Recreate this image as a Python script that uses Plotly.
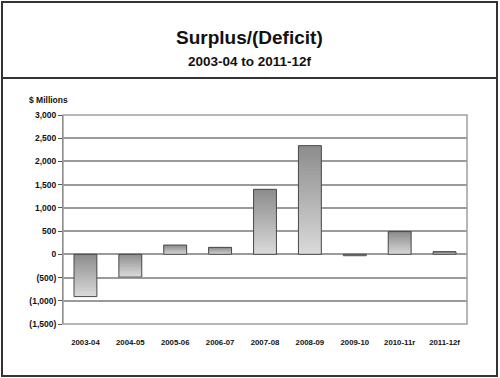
import plotly.graph_objects as go
import numpy as np

categories = ["2003-04", "2004-05", "2005-06", "2006-07", "2007-08", "2008-09", "2009-10", "2010-11r", "2011-12f"]
values = [-910, -490, 200, 150, 1400, 2340, -30, 490, 55]
tick_vals = [-1500, -1000, -500, 0, 500, 1000, 1500, 2000, 2500, 3000]
tick_text = ["(1,500)", "(1,000)", "(500)", "0", "500", "1,000", "1,500", "2,000", "2,500", "3,000"]

FONT = "Liberation Sans, Arial, sans-serif"
N = 30
dark = np.array([0x8c, 0x8c, 0x8c])
light = np.array([0xda, 0xda, 0xda])

vals = np.array(values, dtype=float)
fig = go.Figure()
for k in range(N):
    t = (k + 0.5) / N  # fraction from zero outward
    cols = []
    for v in vals:
        f = t if v >= 0 else 1 - t  # f=1 -> top of bar (dark)
        c = light + (dark - light) * f
        cols.append("rgb(%d,%d,%d)" % tuple(np.round(c).astype(int)))
    frac = min(2.0 / N, 1 - k / N)
    fig.add_trace(go.Bar(
        x=categories, y=vals * frac, base=vals * k / N,
        marker=dict(color=cols, line=dict(width=0)),
        hoverinfo="skip", showlegend=False,
    ))
fig.add_trace(go.Bar(
    x=categories, y=vals, base=[0] * len(vals),
    marker=dict(color="rgba(0,0,0,0)", line=dict(color="#4a4a4a", width=1)),
    showlegend=False,
))

l, r, t, b = 63, 33, 115, 54
pw, ph = 500 - l - r, 378 - t - b
def px(xp): return (xp - l) / pw
def py(yp): return (378 - b - yp) / ph

shapes = [
    dict(type="rect", xref="paper", yref="paper", x0=px(2), x1=px(497), y0=py(376), y1=py(2),
         line=dict(color="#333333", width=2), layer="below"),
    dict(type="line", xref="paper", yref="paper", x0=px(2), x1=px(497), y0=py(78), y1=py(78),
         line=dict(color="#333333", width=2)),
    dict(type="rect", xref="paper", yref="paper", x0=0, x1=1, y0=0, y1=1,
         line=dict(color="#a0a0a0", width=1.5)),
]

fig.update_layout(
    width=500, height=378,
    margin=dict(l=l, r=r, t=t, b=b),
    paper_bgcolor="white", plot_bgcolor="white",
    barmode="overlay", bargap=0.49,
    font=dict(family=FONT, color="#111111"),
    shapes=shapes,
    annotations=[
        dict(text="<b>Surplus/(Deficit)</b>", xref="paper", yref="paper", x=0.5 * (px(2) + px(497)), y=py(37),
             showarrow=False, font=dict(size=19, family=FONT, color="#111111"), xanchor="center", yanchor="middle"),
        dict(text="<b>2003-04 to 2011-12f</b>", xref="paper", yref="paper", x=0.5 * (px(2) + px(497)), y=py(62),
             showarrow=False, font=dict(size=13.5, family=FONT, color="#111111"), xanchor="center", yanchor="middle"),
        dict(text="<b>$ Millions</b>", xref="paper", yref="paper", x=px(27), y=py(100),
             showarrow=False, font=dict(size=8.5, family=FONT, color="#111111"), xanchor="left", yanchor="middle"),
    ],
    xaxis=dict(type="category", showgrid=False, showline=False, ticks="", tickfont=dict(size=7.8, family=FONT),
               tickprefix="<b>", ticksuffix="</b>", ticklabelstandoff=12),
    yaxis=dict(range=[-1500, 3000], tickvals=tick_vals, ticktext=["<b>%s</b>" % s for s in tick_text],
               tickfont=dict(size=8.5, family=FONT), showgrid=True, gridcolor="#9a9a9a", gridwidth=1.5,
               zeroline=False, showline=True, linecolor="#555555", linewidth=1,
               ticks="outside", ticklen=4, tickcolor="#555555"),
)
fig.write_html("out.html", config={"displayModeBar": False},
               post_script="document.body.style.margin='0';document.body.style.overflow='hidden';")
